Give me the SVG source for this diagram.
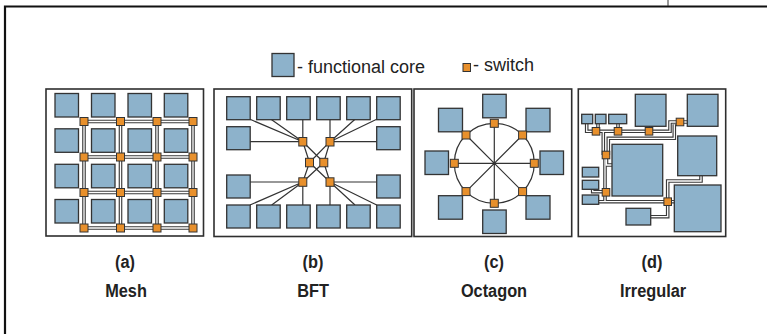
<svg xmlns="http://www.w3.org/2000/svg" width="767" height="334" viewBox="0 0 767 334">
<style>
.core{fill:#8db2cb;stroke:#333;stroke-width:1.3}
.sw{fill:#e8902c;stroke:#333;stroke-width:1}
.frame{fill:#fff;stroke:#2e2e2e;stroke-width:1.6}
.ln{fill:none;stroke:#333;stroke-width:1.2}
.tubeo{fill:none;stroke:#3a3a3a;stroke-width:3.6}
.tubei{fill:none;stroke:#fff;stroke-width:1.3}
.lg{font-family:"Liberation Sans",Arial,sans-serif;font-size:18px;fill:#222}
.lab{font-family:"Liberation Sans",Arial,sans-serif;font-size:19px;font-weight:bold;fill:#222;text-anchor:middle}
</style>
<rect width="767" height="334" fill="#fff"/>
<g id="outer-frame">
<path d="M5 334V6.5H767" fill="none" stroke="#111" stroke-width="2.2"/>
<line x1="668" y1="0" x2="668" y2="6" stroke="#333" stroke-width="1"/>
</g>
<g id="legend">
<rect class="core" x="272" y="53.5" width="22" height="23"/>
<text class="lg" x="297" y="72.5">- functional core</text>
<rect class="sw" x="463" y="63.5" width="7.5" height="8"/>
<text class="lg" x="473" y="71">- switch</text>
</g>
<g id="panel-a">
<rect class="frame" x="46" y="89" width="157.5" height="147"/>
<g id="mesh-links">
<path class="tubeo" d="M84 121.5H193M84 157H193M84 192.5H193M84 228H193M84 121.5V228M120.5 121.5V228M157 121.5V228M193 121.5V228"/>
<path class="tubei" d="M84 121.5H193M84 157H193M84 192.5H193M84 228H193M84 121.5V228M120.5 121.5V228M157 121.5V228M193 121.5V228"/>
</g>
<g id="mesh-cores">
<rect class="core" x="55" y="93.5" width="23.5" height="23.5"/><rect class="core" x="91.5" y="93.5" width="23.5" height="23.5"/><rect class="core" x="128" y="93.5" width="23.5" height="23.5"/><rect class="core" x="164.3" y="93.5" width="23.5" height="23.5"/>
<rect class="core" x="55" y="128.8" width="23.5" height="23.5"/><rect class="core" x="91.5" y="128.8" width="23.5" height="23.5"/><rect class="core" x="128" y="128.8" width="23.5" height="23.5"/><rect class="core" x="164.3" y="128.8" width="23.5" height="23.5"/>
<rect class="core" x="55" y="164.3" width="23.5" height="23.5"/><rect class="core" x="91.5" y="164.3" width="23.5" height="23.5"/><rect class="core" x="128" y="164.3" width="23.5" height="23.5"/><rect class="core" x="164.3" y="164.3" width="23.5" height="23.5"/>
<rect class="core" x="55" y="199.5" width="23.5" height="23.5"/><rect class="core" x="91.5" y="199.5" width="23.5" height="23.5"/><rect class="core" x="128" y="199.5" width="23.5" height="23.5"/><rect class="core" x="164.3" y="199.5" width="23.5" height="23.5"/>
</g>
<g id="mesh-switches">
<rect class="sw" x="80" y="117.5" width="8" height="8"/><rect class="sw" x="116.5" y="117.5" width="8" height="8"/><rect class="sw" x="153" y="117.5" width="8" height="8"/><rect class="sw" x="189" y="117.5" width="8" height="8"/>
<rect class="sw" x="80" y="153" width="8" height="8"/><rect class="sw" x="116.5" y="153" width="8" height="8"/><rect class="sw" x="153" y="153" width="8" height="8"/><rect class="sw" x="189" y="153" width="8" height="8"/>
<rect class="sw" x="80" y="188.5" width="8" height="8"/><rect class="sw" x="116.5" y="188.5" width="8" height="8"/><rect class="sw" x="153" y="188.5" width="8" height="8"/><rect class="sw" x="189" y="188.5" width="8" height="8"/>
<rect class="sw" x="80" y="224" width="8" height="8"/><rect class="sw" x="116.5" y="224" width="8" height="8"/><rect class="sw" x="153" y="224" width="8" height="8"/><rect class="sw" x="189" y="224" width="8" height="8"/>
</g>
</g>
<g id="panel-b">
<rect class="frame" x="214" y="89" width="197.7" height="147.5"/>
<g id="bft-links">
<path class="ln" d="M302.8 141.7L250 119.3M302.8 141.7L271 119.3M302.8 141.7V119.3M302.8 141.7H250
M330 141.7L376.7 119.3M330 141.7L355 119.3M330 141.7V119.3M330 141.7H376.7
M302.8 182L250 205M302.8 182L271.7 205M302.8 182V205M302.8 182H250
M330 182L376.7 205M330 182L355 205M330 182V205M330 182H376.7
M302.8 141.7L309.5 162.5M302.8 141.7L323.8 162.5M330 141.7L309.5 162.5M330 141.7L323.8 162.5
M302.8 182L309.5 162.5M302.8 182L323.8 162.5M330 182L309.5 162.5M330 182L323.8 162.5"/>
</g>
<g id="bft-cores">
<rect class="core" x="226.7" y="96.7" width="23.5" height="23"/><rect class="core" x="256.7" y="96.7" width="23.5" height="23"/><rect class="core" x="286.7" y="96.7" width="23.5" height="23"/><rect class="core" x="316.7" y="96.7" width="23.5" height="23"/><rect class="core" x="346.7" y="96.7" width="23.5" height="23"/><rect class="core" x="376.7" y="96.7" width="23.5" height="23"/>
<rect class="core" x="226.7" y="126.7" width="23.5" height="23"/><rect class="core" x="376.7" y="126.7" width="23.5" height="23"/>
<rect class="core" x="226.7" y="175" width="23.5" height="23"/><rect class="core" x="376.7" y="175" width="23.5" height="23"/>
<rect class="core" x="226.7" y="205" width="23.5" height="23"/><rect class="core" x="256.7" y="205" width="23.5" height="23"/><rect class="core" x="286.7" y="205" width="23.5" height="23"/><rect class="core" x="316.7" y="205" width="23.5" height="23"/><rect class="core" x="346.7" y="205" width="23.5" height="23"/><rect class="core" x="376.7" y="205" width="23.5" height="23"/>
</g>
<g id="bft-switches">
<rect class="sw" x="298.8" y="137.5" width="8" height="8.5"/><rect class="sw" x="326" y="137.5" width="8" height="8.5"/>
<rect class="sw" x="305.5" y="158.3" width="8" height="8.5"/><rect class="sw" x="319.8" y="158.3" width="8" height="8.5"/>
<rect class="sw" x="298.8" y="177.8" width="8" height="8.5"/><rect class="sw" x="326" y="177.8" width="8" height="8.5"/>
</g>
</g>
<g id="panel-c">
<rect class="frame" x="414" y="89" width="157.7" height="147.5"/>
<g id="octagon-links">
<circle class="ln" cx="494.3" cy="163.3" r="40"/>
<path class="ln" d="M494.3 123.3V203.3M454.3 163.3H534.3M466 135L522.6 191.6M522.6 135L466 191.6"/>
</g>
<g id="octagon-cores">
<rect class="core" x="482.7" y="94.3" width="23.5" height="23.5"/>
<rect class="core" x="482.7" y="210" width="23.5" height="23.5"/>
<rect class="core" x="425" y="151" width="23.5" height="23.5"/>
<rect class="core" x="540" y="151" width="23.5" height="23.5"/>
<rect class="core" x="438.5" y="108.3" width="24" height="23.5"/>
<rect class="core" x="526" y="108.3" width="24" height="23.5"/>
<rect class="core" x="438.5" y="195.7" width="24" height="23.5"/>
<rect class="core" x="526" y="195.7" width="24" height="23.5"/>
</g>
<g id="octagon-switches">
<rect class="sw" x="490.3" y="119.3" width="8" height="8"/>
<rect class="sw" x="490.3" y="199.3" width="8" height="8"/>
<rect class="sw" x="450.3" y="159.3" width="8" height="8"/>
<rect class="sw" x="530.3" y="159.3" width="8" height="8"/>
<rect class="sw" x="462" y="131" width="8" height="8"/>
<rect class="sw" x="518.6" y="131" width="8" height="8"/>
<rect class="sw" x="462" y="187.6" width="8" height="8"/>
<rect class="sw" x="518.6" y="187.6" width="8" height="8"/>
</g>
</g>
<g id="panel-d">
<rect class="frame" x="578.3" y="89" width="147.4" height="147.5"/>
<g id="irregular-links">
<path class="tubeo" d="M586.7 123.7V131.3H649M598 123.7V131.3M618 123.7V131.3M650.7 126.3V131.3M649 131.3H670V122H687.3M674.3 124.3V138.3H608.3V155M603.3 131.3V155M606.5 155V165H612M605 158V201.7H667.7M592.7 189.3V191.7H605M598.7 201.7H606M667.7 201.7H674.3M667.7 201.7V181H701V175.7M667.7 201.7V216.7H650.7"/>
<path class="tubei" d="M586.7 123.7V131.3H649M598 123.7V131.3M618 123.7V131.3M650.7 126.3V131.3M649 131.3H670V122H687.3M674.3 124.3V138.3H608.3V155M603.3 131.3V155M606.5 155V165H612M605 158V201.7H667.7M592.7 189.3V191.7H605M598.7 201.7H606M667.7 201.7H674.3M667.7 201.7V181H701V175.7M667.7 201.7V216.7H650.7"/>
</g>
<g id="irregular-cores">
<rect class="core" x="581.7" y="114.3" width="11" height="9.4"/>
<rect class="core" x="595.3" y="114.3" width="10.7" height="9.4"/>
<rect class="core" x="608.7" y="114.3" width="18" height="9.4"/>
<rect class="core" x="635.3" y="94.3" width="30.7" height="32"/>
<rect class="core" x="687.3" y="94.3" width="30.7" height="32"/>
<rect class="core" x="612" y="144.3" width="50.7" height="51.7"/>
<rect class="core" x="677.7" y="136" width="39" height="39.7"/>
<rect class="core" x="674.3" y="185" width="46.7" height="46.7"/>
<rect class="core" x="582.3" y="167.3" width="16.4" height="9.7"/>
<rect class="core" x="582.3" y="180.3" width="16.4" height="9"/>
<rect class="core" x="582.3" y="195" width="16.4" height="9.3"/>
<rect class="core" x="626" y="208.3" width="24.7" height="16.7"/>
</g>
<g id="irregular-switches">
<rect class="sw" x="592.2" y="127.5" width="7.6" height="7.6"/>
<rect class="sw" x="614.2" y="127.5" width="7.6" height="7.6"/>
<rect class="sw" x="645.2" y="127.5" width="7.6" height="7.6"/>
<rect class="sw" x="676.2" y="118.2" width="7.6" height="7.6"/>
<rect class="sw" x="602.2" y="151.2" width="7.6" height="7.6"/>
<rect class="sw" x="602.2" y="188.5" width="7.6" height="7.6"/>
<rect class="sw" x="663.9" y="197.9" width="7.6" height="7.6"/>
</g>
</g>
<g id="labels">
<text class="lab" transform="translate(125 268) scale(0.86 1)">(a)</text>
<text class="lab" transform="translate(126 297) scale(0.86 1)">Mesh</text>
<text class="lab" transform="translate(313 268) scale(0.86 1)">(b)</text>
<text class="lab" transform="translate(313 297) scale(0.86 1)">BFT</text>
<text class="lab" transform="translate(494 268) scale(0.86 1)">(c)</text>
<text class="lab" transform="translate(494 297) scale(0.86 1)">Octagon</text>
<text class="lab" transform="translate(652 268) scale(0.86 1)">(d)</text>
<text class="lab" transform="translate(653 297) scale(0.86 1)">Irregular</text>
</g>
</svg>
